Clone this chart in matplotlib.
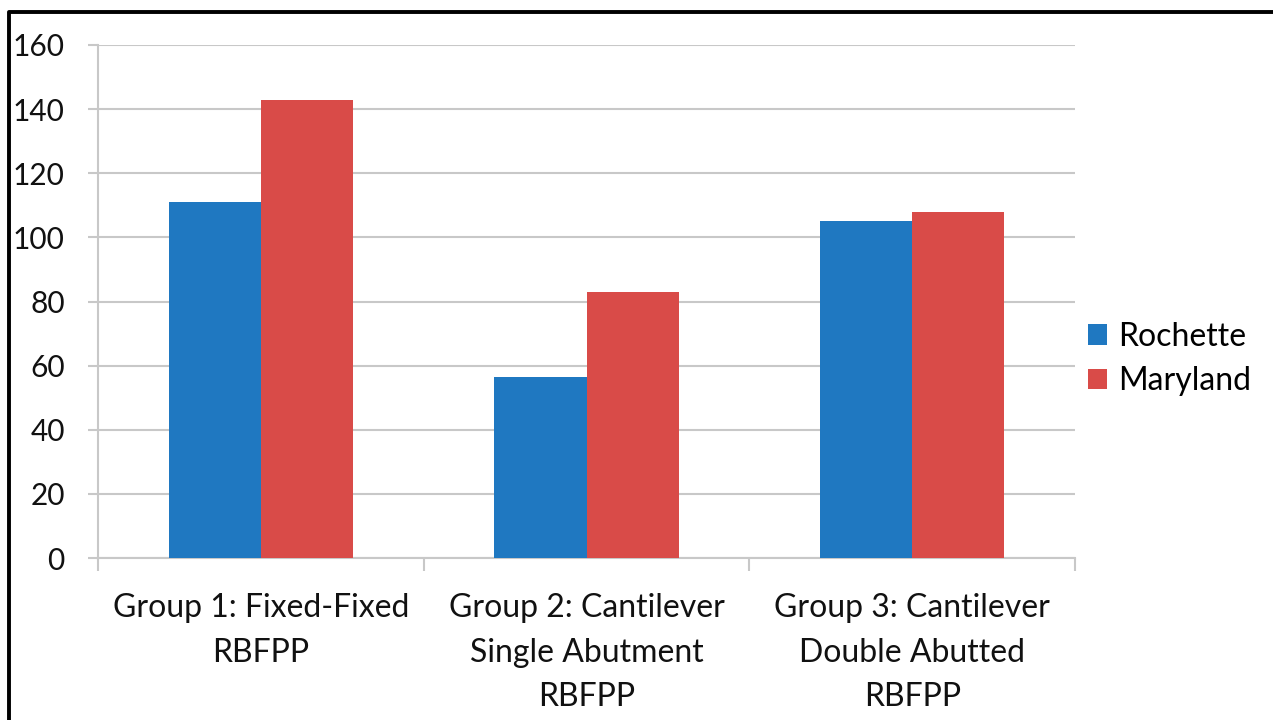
import matplotlib
matplotlib.use("Agg")
import matplotlib.pyplot as plt
import numpy as np
from matplotlib.lines import Line2D

groups = [
    "Group 1: Fixed-Fixed\nRBFPP",
    "Group 2: Cantilever\nSingle Abutment\nRBFPP",
    "Group 3: Cantilever\nDouble Abutted\nRBFPP",
]
series = ["Rochette", "Maryland"]
rochette = [111, 56.5, 105]
maryland = [143, 83, 108]
yticks = [0, 20, 40, 60, 80, 100, 120, 140, 160]

colours = ["#1f78c1", "#d94b48"]
grid_c = "#c8c8c8"

plt.rcParams["font.family"] = ["Lato", "DejaVu Sans"]
plt.rc("font", size=23)

fig = plt.figure(figsize=(12.73, 7.2), dpi=100)
ax = fig.add_axes([0.077, 0.225, 0.7675, 0.7125])

x = np.arange(len(groups))
w = 0.283
ax.bar(x - w / 2, rochette, w, color=colours[0], label=series[0], zorder=3)
ax.bar(x + w / 2, maryland, w, color=colours[1], label=series[1], zorder=3)

ax.set_xlim(-0.5, len(groups) - 0.5)
ax.set_ylim(0, 160)
ax.set_yticks(yticks)
ax.yaxis.grid(True, color=grid_c, lw=1.5, zorder=0)
ax.tick_params(axis="y", length=7, width=1.5, color=grid_c, pad=17,
               labelcolor="#111111", labelsize=21.5)

# category labels between boundary ticks
ax.set_xticks(np.arange(-0.5, len(groups)), minor=False)
ax.set_xticklabels([])
ax.tick_params(axis="x", length=9, width=1.5, color=grid_c)
for xi, g in zip(x, groups):
    ax.text(xi, -11, g, ha="center", va="top", linespacing=1.6,
            color="#111111")

for s in ["top", "right"]:
    ax.spines[s].set_visible(False)
for s in ["left", "bottom"]:
    ax.spines[s].set_color(grid_c)
    ax.spines[s].set_linewidth(1.5)

ax.legend(loc="center left", bbox_to_anchor=(1.0, 0.388), frameon=False,
          handlelength=0.6, handleheight=0.6, handletextpad=0.35,
          labelspacing=0.45, borderaxespad=0.2, borderpad=0.2)

# frame on top and left of figure
fig.add_artist(Line2D([0.007, 0.007, 1.0], [0.0, 0.983, 0.983],
                      transform=fig.transFigure, color="black", lw=2.8))

fig.savefig("out.png", dpi=100)
